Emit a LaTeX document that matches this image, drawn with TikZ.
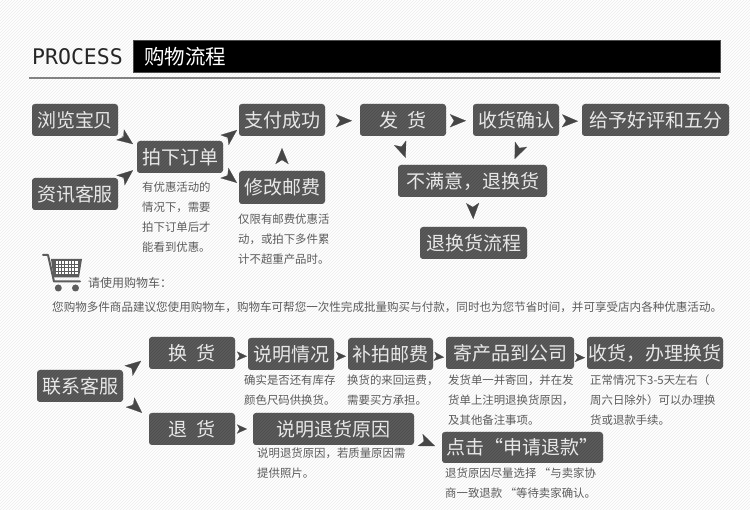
\documentclass[tikz,border=0pt]{standalone}
\usepackage{fontspec}
\usepackage{xcolor}
\usepackage{tikz}
\setmainfont{Noto Sans CJK SC}
\newfontfamily\latinmono{DejaVu Sans Mono}
\usetikzlibrary{arrows.meta, patterns}
\definecolor{cBox}{RGB}{92,92,92}
\definecolor{cHatch}{RGB}{76,76,76}
\definecolor{cText}{RGB}{232,232,232}
\definecolor{cNote}{RGB}{92,92,92}
\definecolor{cTip}{RGB}{70,70,70}
\definecolor{cRule}{RGB}{130,130,130}
\definecolor{cPaper}{RGB}{236,236,236}
\tikzset{
	stepbox/.style ={rectangle, rounded corners=3pt, minimum width=86pt, minimum height=32pt, inner sep=0pt, outer sep=0pt, align=center, text=cText, fill=cBox, postaction={pattern=north east lines, pattern color=cHatch}, font=\fontsize{19}{19}\selectfont},
	note/.style    ={anchor=north west, inner sep=0pt, align=left, text=cNote, font=\fontsize{11.4}{20}\selectfont},
	gaptip/.style 2 args={-{Stealth[length=16pt, width=13pt, inset=4pt]}, cTip, line width=0.2pt, shorten <=#1pt, shorten >=#2pt},
	smalltip/.style 2 args={-{Stealth[length=10pt, width=9pt, inset=2.5pt]}, cTip, line width=0.2pt, shorten <=#1pt, shorten >=#2pt},
}
\begin{document}
\begin{tikzpicture}[x=1pt, y=-1pt]
	\useasboundingbox (0,0) rectangle (750,510);
	\fill[white] (0,0) rectangle (750,510);
	\fill[pattern=north east lines, pattern color=cPaper] (0,0) rectangle (750,510);
	% heading
	\node[anchor=west, inner sep=0pt, font=\latinmono\fontsize{21.5}{21.5}\selectfont, text=black!85] (latin) at (32,57){PROCESS};
	\node[anchor=north west, minimum width=587pt, minimum height=32pt, inner sep=0pt, outer sep=0pt, fill=black, draw=black!70, line width=0.5pt] (bar) at (133,40){};
	\node[anchor=west, inner sep=0pt, text=white, font=\fontsize{20.5}{20.5}\selectfont] (title) at (144,56.5){购物流程};
	\draw[cRule, line width=1.6pt] (29,78)--(720,78);
	% upper flow
	\node[stepbox] (browse) at (75,120){浏览宝贝};
	\node[stepbox] (consult) at (75,194){资讯客服};
	\node[stepbox] (order) at (180,157){拍下订单};
	\node[stepbox] (pay) at (282,120){支付成功};
	\node[stepbox, minimum height=33pt] (modify) at (282,187.5){修改邮费};
	\node[stepbox] (ship) at (403,120){发\hspace{10pt}货};
	\node[stepbox] (confirm) at (516,120){收货确认};
	\node[stepbox, minimum width=147pt] (rate) at (655.5,120){给予好评和五分};
	\node[stepbox, minimum width=149pt] (unsat) at (472.5,181){不满意，退换货};
	\node[stepbox, minimum width=107pt] (flow) at (473.5,243){退换货流程};
	\node[note] (n1) at (142,182){有优惠活动的\\情况下，需要\\拍下订单后才\\能看到优惠。};
	\node[note] (n2) at (238,214){仅限有邮费优惠活\\动，或拍下多件累\\计不超重产品时。};
	\draw[gaptip={4.6}{4.9}](browse.-17)--(order.167);
	\draw[gaptip={5.9}{5.2}](consult.15)--(order.193);
	\draw[gaptip={4.6}{2.6}](order.20)--(pay.191);
	\draw[gaptip={4.6}{2.6}](order.-19)--(modify.176);
	\draw[gaptip={12}{12}](modify.north)--(pay.south);
	\draw[gaptip={15}{8}](pay.-1)--(ship.181);
	\draw[gaptip={8}{7}](ship.-1)--(confirm.181);
	\draw[gaptip={7}{4}](confirm.-1)--(rate.181);
	\draw[gaptip={12.7}{7.6}](ship.251)--(unsat.166);
	\draw[gaptip={13.2}{6.5}](confirm.-62)--(unsat.22);
	\draw[gaptip={11}{8}](unsat.south)--(flow.north);
	% shopping cart
	\draw[cBox, line width=2pt, line cap=round, line join=round] (43,255)--(48,255)--(54,281.5)--(80,281.5);
	\fill[cBox] (51,259)--(82,259)--(79,277.5)--(53.5,277.5)--cycle;
	\foreach \i in {0,...,6}{\foreach \j in {0,...,3}{\fill[white] (55.5+3.3*\i,261.5+3.5*\j) rectangle +(2.2,2.3);}}
	\fill[cBox] (58.3,288) circle (3.5);
	\fill[cBox] (75.5,288) circle (3.5);
	\node[note, anchor=west, font=\fontsize{12}{12}\selectfont] (cart) at (88,283){请使用购物车：};
	\node[note, anchor=west, font=\fontsize{11.55}{12}\selectfont] (cartnote) at (52,307){您购物多件商品建议您使用购物车，购物车可帮您一次性完成批量购买与付款，同时也为您节省时间，并可享受店内各种优惠活动。};
	% lower flow
	\node[stepbox] (contact) at (80,386){联系客服};
	\node[stepbox] (exchange) at (192,353){换\hspace{10pt}货};
	\node[stepbox] (explain) at (291,354){说明情况};
	\node[stepbox, minimum width=85pt] (topup) at (390.5,354){补拍邮费};
	\node[stepbox, minimum width=128pt] (send) at (510,353){寄产品到公司};
	\node[stepbox, minimum width=136pt] (receive) at (655,353){收货，办理换货};
	\node[stepbox] (refund) at (192,429){退\hspace{10pt}货};
	\node[stepbox, minimum width=161pt] (reason) at (333.5,429){说明退货原因};
	\node[stepbox, minimum width=161pt, minimum height=31pt] (click) at (522.5,447.5){点击“申请退款”};
	\node[note] (n3) at (244,375){确实是否还有库存\\颜色尺码供换货。};
	\node[note] (n4) at (347,375){换货的来回运费，\\需要买方承担。};
	\node[note] (n5) at (448,375){发货单一并寄回，并在发\\货单上注明退换货原因，\\及其他备注事项。};
	\node[note] (n6) at (590,375){正常情况下3-5天左右（\\周六日除外）可以办理换\\货或退款手续。};
	\node[note] (n7) at (257,448){说明退货原因，若质量原因需\\提供照片。};
	\node[note] (n8) at (445,468){退货原因尽量选择 “与卖家协\\商一致退款 “等待卖家确认。};
	\draw[gaptip={9.7}{10.1}](contact.14)--(exchange.182);
	\draw[gaptip={12}{9.3}](contact.-13)--(refund.167);
	\draw[smalltip={4.5}{1}](exchange.-4)--(explain.183);
	\draw[smalltip={5.5}{2}](explain.-3)--(topup.183);
	\draw[smalltip={4.5}{2}](topup.-3)--(send.184);
	\draw[smalltip={4.5}{2}](send.-4)--(receive.184);
	\draw[smalltip={4.5}{6}](refund.east)--(reason.west);
	\draw[gaptip={10}{7.6}](reason.-6)--(click.181);
\end{tikzpicture}
\end{document}
